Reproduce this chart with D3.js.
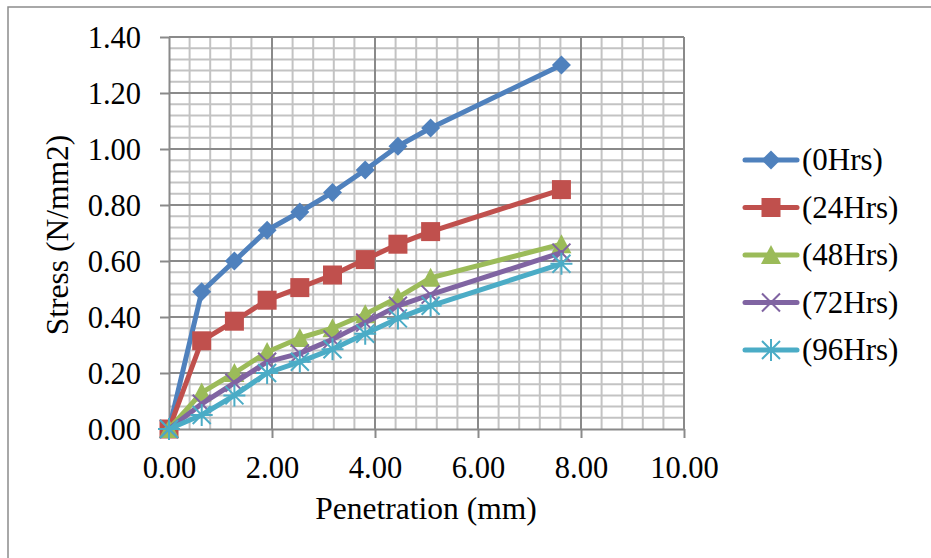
<!DOCTYPE html>
<html>
<head>
<meta charset="utf-8">
<script src="https://cdn.jsdelivr.net/npm/d3@7"></script>
<style>
  body { margin: 0; background: #fff; }
  svg { display: block; }
  text { font-family: "Liberation Serif", "Times New Roman", serif; fill: #000; }
</style>
</head>
<body>
<svg id="chart" width="931" height="558"></svg>
<script>
// ---- data ----
const penetration = [0, 0.635, 1.27, 1.905, 2.54, 3.175, 3.81, 4.445, 5.08, 7.62];
const seriesNames = ["(0Hrs)", "(24Hrs)", "(48Hrs)", "(72Hrs)", "(96Hrs)"];
const stress0  = [0, 0.49, 0.60, 0.71, 0.775, 0.845, 0.925, 1.01, 1.075, 1.30];
const stress24 = [0, 0.315, 0.385, 0.46, 0.505, 0.55, 0.605, 0.66, 0.705, 0.855];
const stress48 = [0, 0.13, 0.20, 0.275, 0.325, 0.36, 0.41, 0.47, 0.54, 0.66];
const stress72 = [0, 0.09, 0.165, 0.24, 0.27, 0.32, 0.38, 0.44, 0.48, 0.63];
const stress96 = [0, 0.05, 0.12, 0.20, 0.24, 0.285, 0.34, 0.395, 0.44, 0.59];
const xTicks = [0, 2, 4, 6, 8, 10];
const yTicks = [0, 0.2, 0.4, 0.6, 0.8, 1.0, 1.2, 1.4];
const xTitle = "Penetration (mm)";
const yTitle = "Stress (N/mm2)";

const colors = ["#4F81BD", "#C0504D", "#9BBB59", "#8064A2", "#4BACC6"];
const markerTypes = ["diamond", "square", "triangle", "x", "star"];
const allSeries = [stress0, stress24, stress48, stress72, stress96];

const svg = d3.select("#chart");
const x = d3.scaleLinear().domain([0, 10]).range([169, 684]);
const y = d3.scaleLinear().domain([0, 1.4]).range([429, 37]);

// outer border
svg.append("rect").attr("x", 8).attr("y", 7).attr("width", 940).attr("height", 570)
  .attr("fill", "none").attr("stroke", "#8c8c8c").attr("stroke-width", 1.5);

// minor gridlines
const minorX = d3.range(0, 10.001, 0.4).filter(v => Math.abs(v / 2 - Math.round(v / 2)) > 1e-6);
const minorY = d3.range(0, 1.4001, 0.04).filter(v => Math.abs(v / 0.2 - Math.round(v / 0.2)) > 1e-6);
const grid = svg.append("g");
grid.selectAll(".mx").data(minorX).join("line")
  .attr("x1", d => x(d)).attr("x2", d => x(d)).attr("y1", y(1.4)).attr("y2", y(0))
  .attr("stroke", "#c3c3c3").attr("stroke-width", 2);
grid.selectAll(".my").data(minorY).join("line")
  .attr("x1", x(0)).attr("x2", x(10)).attr("y1", d => y(d)).attr("y2", d => y(d))
  .attr("stroke", "#c3c3c3").attr("stroke-width", 2);
// major gridlines
grid.selectAll(".Mx").data(xTicks.slice(1)).join("line")
  .attr("x1", d => x(d)).attr("x2", d => x(d)).attr("y1", y(1.4)).attr("y2", y(0))
  .attr("stroke", "#8a8a8a").attr("stroke-width", 2);
grid.selectAll(".My").data(yTicks.slice(1)).join("line")
  .attr("x1", x(0)).attr("x2", x(10)).attr("y1", d => y(d)).attr("y2", d => y(d))
  .attr("stroke", "#8a8a8a").attr("stroke-width", 2);

// axes
const xAxis = d3.axisBottom(x).tickValues(xTicks).tickFormat(d3.format(".2f")).tickSizeInner(9).tickSizeOuter(0).tickPadding(11);
const yAxis = d3.axisLeft(y).tickValues(yTicks).tickFormat(d3.format(".2f")).tickSizeInner(9).tickSizeOuter(0).tickPadding(19);
const gx = svg.append("g").attr("transform", `translate(0,${y(0)})`).call(xAxis);
const gy = svg.append("g").attr("transform", `translate(${x(0)},0)`).call(yAxis);
[gx, gy].forEach(g => {
  g.select(".domain").attr("stroke", "#8a8a8a").attr("stroke-width", 2);
  g.selectAll(".tick line").attr("stroke", "#8a8a8a").attr("stroke-width", 2);
  g.selectAll(".tick text").style("font-family", '"Liberation Serif", serif').style("font-size", "30.5px").attr("fill", "#000");
});
gx.selectAll(".tick text").attr("dy", "0.95em");
gy.selectAll(".tick text").attr("dy", "0.34em");

// axis titles
svg.append("text").attr("x", 426).attr("y", 519).attr("text-anchor", "middle")
  .style("font-size", "31.5px").text(xTitle);
svg.append("text").attr("transform", "translate(68,235) rotate(-90)").attr("text-anchor", "middle")
  .style("font-size", "31.5px").text(yTitle);

// markers
function drawMarker(g, type, color) {
  if (type === "diamond") {
    g.append("path").attr("d", "M0,-9.5L9.5,0L0,9.5L-9.5,0Z").attr("fill", color);
  } else if (type === "square") {
    g.append("rect").attr("x", -9.5).attr("y", -9.5).attr("width", 19).attr("height", 19).attr("fill", color);
  } else if (type === "triangle") {
    g.append("path").attr("d", "M0,-10L10,9L-10,9Z").attr("fill", color);
  } else if (type === "x") {
    g.append("path").attr("d", "M-9,-9L9,9M-9,9L9,-9").attr("stroke", color).attr("stroke-width", 2).attr("fill", "none");
  } else if (type === "star") {
    g.append("path").attr("d", "M-9,-9L9,9M-9,9L9,-9M0,-11L0,11M-11,0L11,0").attr("stroke", color).attr("stroke-width", 2).attr("fill", "none");
  }
}

const line = d3.line().x(d => x(d[0])).y(d => y(d[1]));
allSeries.forEach((vals, i) => {
  const pts = penetration.map((p, k) => [p, vals[k]]);
  const g = svg.append("g");
  g.append("path").attr("d", line(pts)).attr("fill", "none").attr("stroke", colors[i])
    .attr("stroke-width", 5).attr("stroke-linejoin", "round").attr("stroke-linecap", "round");
  pts.forEach(p => {
    const m = g.append("g").attr("transform", `translate(${x(p[0])},${y(p[1])})`);
    drawMarker(m, markerTypes[i], colors[i]);
  });
});

// legend
const legend = svg.append("g");
seriesNames.forEach((name, i) => {
  const cy = 160 + i * 47.5;
  legend.append("line").attr("x1", 745).attr("x2", 797).attr("y1", cy).attr("y2", cy)
    .attr("stroke", colors[i]).attr("stroke-width", 5).attr("stroke-linecap", "round");
  const m = legend.append("g").attr("transform", `translate(771,${cy})`);
  drawMarker(m, markerTypes[i], colors[i]);
  legend.append("text").attr("x", 802).attr("y", cy + 10).style("font-size", "31px").text(name);
});
</script>
</body>
</html>
